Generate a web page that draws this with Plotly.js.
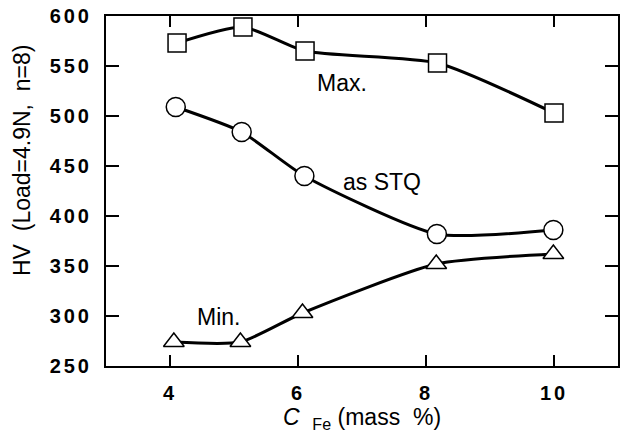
<!DOCTYPE html>
<html>
<head>
<meta charset="utf-8">
<script src="https://cdn.plot.ly/plotly-3.0.1.min.js"></script>
<style>
  html, body { margin: 0; padding: 0; background: #fff; }
  #chart { width: 631px; height: 441px; }
  .xtick text, .ytick text { letter-spacing: 3px; }
</style>
</head>
<body>
<div id="chart"></div>
<script>
// Data
const maxX = [4.11, 5.14, 6.11, 8.18, 10.0];
const maxY = [573, 589, 565, 553, 503];
const stqX = [4.09, 5.12, 6.10, 8.17, 9.99];
const stqY = [509, 484, 440, 382, 386];
const minX = [4.06, 5.10, 6.07, 8.16, 9.99];
const minY = [274, 274, 303, 352, 362];

const xTicks = [4, 6, 8, 10];
const yTicks = [250, 300, 350, 400, 450, 500, 550, 600];

const seriesNames = ['Max.', 'as STQ', 'Min.'];
const labelPos = [[6.69, 533], [7.32, 434], [4.75, 299]];
const yTitle = 'HV  (Load=4.9N,  n=8)';
const xTitle = '<i>C</i>  <sub>Fe</sub> (mass  %)';

const lineStyle = {color: '#000', width: 3, shape: 'spline', smoothing: 0.6};
function mk(symbol, size) {
  return {symbol: symbol, size: size, color: '#fff', line: {color: '#000', width: 1.5}};
}

const traces = [
  {x: maxX, y: maxY, name: seriesNames[0], mode: 'lines+markers', line: lineStyle, marker: mk('square', 18)},
  {x: stqX, y: stqY, name: seriesNames[1], mode: 'lines+markers', line: lineStyle, marker: mk('circle', 19)},
  {x: minX, y: minY, name: seriesNames[2], mode: 'lines+markers', line: lineStyle, marker: mk('triangle-up', 18)}
];

const FAM = 'Arial, "Liberation Sans", sans-serif';
const annFont = {family: FAM, size: 23, color: '#000'};

const annotations = seriesNames.map((t, i) => ({
  x: labelPos[i][0], y: labelPos[i][1], xref: 'x', yref: 'y',
  text: t, showarrow: false, font: annFont
}));
annotations.push({
  text: yTitle, textangle: -90, showarrow: false,
  xref: 'paper', yref: 'paper', x: (22 - 106) / 512, y: (366 - 161) / 350,
  xanchor: 'center', yanchor: 'middle', font: {family: FAM, size: 23, color: '#000'}
});

const layout = {
  width: 631, height: 441,
  margin: {l: 106, r: 13, t: 16, b: 75},
  paper_bgcolor: '#fff', plot_bgcolor: '#fff',
  showlegend: false,
  font: {family: FAM, color: '#000'},
  xaxis: {
    range: [3, 11], tickvals: xTicks, ticktext: xTicks.map(String),
    ticks: 'inside', ticklen: 11, tickwidth: 1.5, tickcolor: '#000',
    showline: true, linecolor: '#000', linewidth: 2, mirror: 'ticks',
    showgrid: false, zeroline: false,
    tickfont: {size: 20, weight: 'bold'},
    ticklabelstandoff: 8,
    title: {text: xTitle, font: {size: 23}, standoff: 2}
  },
  yaxis: {
    range: [250, 600], tickvals: yTicks, ticktext: yTicks.map(String),
    ticks: 'inside', ticklen: 13, tickwidth: 1.5, tickcolor: '#000',
    showline: true, linecolor: '#000', linewidth: 2, mirror: 'ticks',
    showgrid: false, zeroline: false,
    tickfont: {size: 20, weight: 'bold'},
    ticklabelstandoff: 8
  },
  annotations: annotations
};

Plotly.newPlot('chart', traces, layout, {staticPlot: true, displayModeBar: false});
</script>
</body>
</html>
